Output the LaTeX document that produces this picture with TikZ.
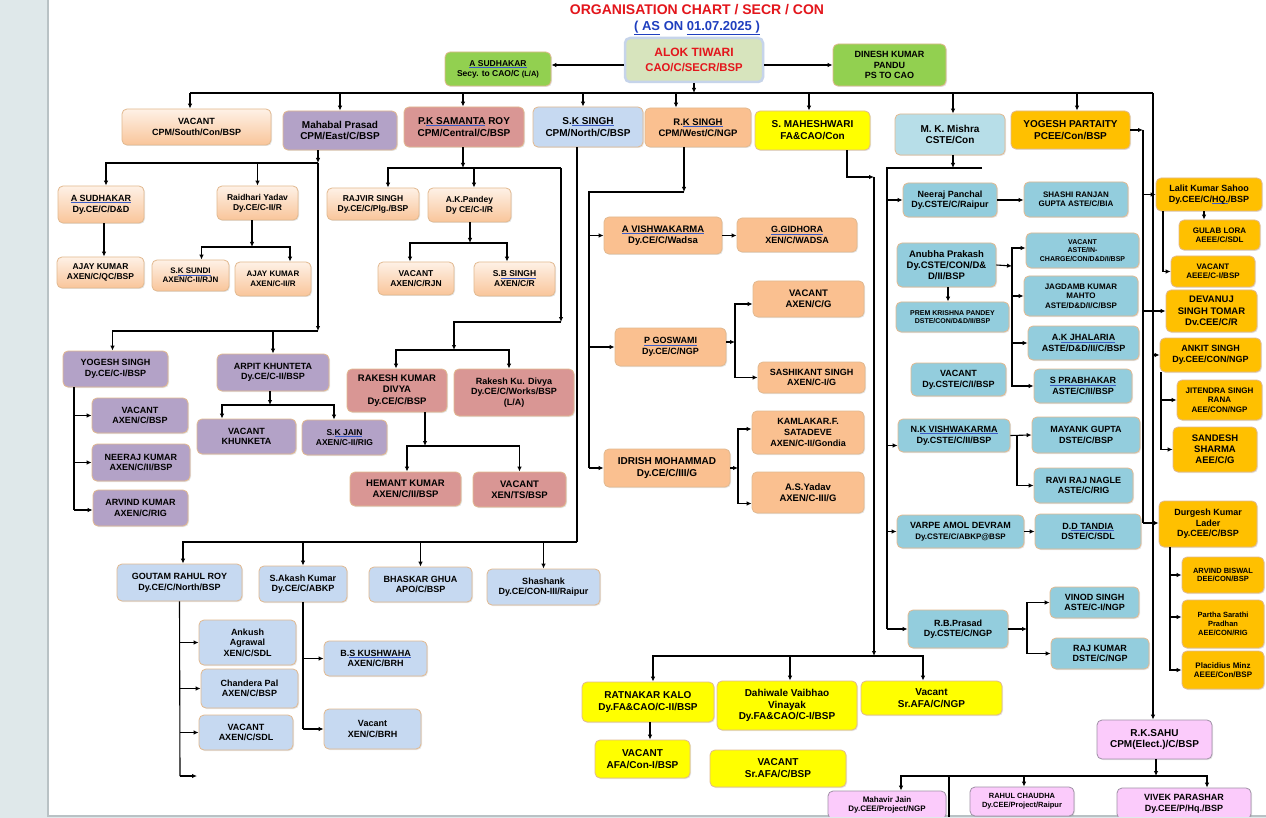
\documentclass[tikz,border=0pt]{standalone}
\usepackage{fontspec}
\setmainfont{Liberation Sans}
\usepackage{xcolor}
\usetikzlibrary{arrows.meta}
\usetikzlibrary{shadows}

\definecolor{margc}{HTML}{DFE8EA}
\definecolor{pagec}{HTML}{B9C2C5}
\definecolor{ttlred}{HTML}{E3161C}
\definecolor{ttlblue}{HTML}{1F3FBF}
\definecolor{ulblue}{HTML}{3A5BC8}
\definecolor{edgec}{HTML}{E2B98F}
\definecolor{alokc}{HTML}{D7E4BD}
\definecolor{alokedge}{HTML}{C6D4EA}
\definecolor{grnc}{HTML}{92D050}
\definecolor{pchtop}{HTML}{FEF1E6}
\definecolor{pchbot}{HTML}{F9C59A}
\definecolor{orgc}{HTML}{FAC090}
\definecolor{purc}{HTML}{B3A2C7}
\definecolor{rosec}{HTML}{D99694}
\definecolor{lbluec}{HTML}{C6D9F1}
\definecolor{tealc}{HTML}{93CDDD}
\definecolor{mishrac}{HTML}{B7DEE8}
\definecolor{goldc}{HTML}{FFC000}
\definecolor{yelc}{HTML}{FFFF00}
\definecolor{pinkc}{HTML}{FBCBFB}
\definecolor{pinkedge}{HTML}{A091A6}

\newcommand{\bluline}[1]{\leavevmode\setbox0\hbox{#1}\rlap{\color{ulblue}\rule[-1.7pt]{\wd0}{0.7pt}}\box0\relax}

\begin{document}
\begin{tikzpicture}[x=1pt,y=-1pt,>={Latex[length=5pt,width=4.5pt]},line width=1.1pt,
  box/.style={draw=edgec,line width=0.8pt,rounded corners=5pt,align=center,inner sep=1pt,
    text=black,fill=#1,drop shadow={opacity=0.2,shadow xshift=1pt,shadow yshift=-1pt}},
  pchbox/.style={box=white,top color=pchtop,bottom color=pchbot},
  wh/.style 2 args={minimum width=#1pt,minimum height=#2pt},
  t7/.style={font=\bfseries\fontsize{7}{8.2}\selectfont},
  t75/.style={font=\bfseries\fontsize{7.5}{8.8}\selectfont},
  t8/.style={font=\bfseries\fontsize{8}{9.4}\selectfont},
  t85/.style={font=\bfseries\fontsize{8.5}{10}\selectfont},
  t9/.style={font=\bfseries\fontsize{9}{10.6}\selectfont},
  t95/.style={font=\bfseries\fontsize{9.5}{11.2}\selectfont},
  t10/.style={font=\bfseries\fontsize{10}{11.8}\selectfont}]
\useasboundingbox (0,0) rectangle (1266,818);
\fill[margc] (0,0) rectangle (1266,818);
\fill[white] (48,0) rectangle (1266,816);
\draw[pagec,line width=1.5pt] (48,0) -- (48,816) -- (1266,816);

\begin{scope}
\clip (48,0) rectangle (1266,816);

% title
\node[font=\bfseries\fontsize{14}{16}\selectfont,text=ttlred] (title) at (697,10) {ORGANISATION CHART / SECR / CON};
\node[font=\bfseries\fontsize{13}{15}\selectfont,text=ttlblue] (date) at (697,28) {\underline{( AS} ON \underline{01.07.2025 )}};

% top row
\node[box=alokc,draw=alokedge,line width=2.5pt,text=ttlred,wh={138}{44},font=\bfseries\fontsize{12}{15}\selectfont] (alok) at (694,60) {ALOK TIWARI\\{\fontsize{11.3}{14}\selectfont CAO/C/SECR/BSP}};
\node[box=grnc,t85,wh={106}{34}] (sudsec) at (498,69) {\bluline{A SUDHAKAR}\\Secy. to CAO/C {\fontsize{7.5}{9}\selectfont(L/A)}};
\node[box=grnc,t9,wh={113}{42}] (dinesh) at (889.5,65) {DINESH KUMAR\\PANDU\\PS TO CAO};

% second row
\node[pchbox,t9,wh={149}{36}] (vacsouth) at (196.5,127) {VACANT\\CPM/South/Con/BSP};
\node[box=purc,t10,wh={114}{39}] (mahabal) at (340,130.5) {Mahabal Prasad\\CPM/East/C/BSP};
\node[box=rosec,t10,wh={120}{40}] (samanta) at (464,127) {P.\bluline{K SAMANTA} ROY\\CPM/Central/C/BSP};
\node[box=lbluec,t10,wh={110}{40}] (sksingh) at (588,127) {S.\bluline{K SINGH}\\CPM/North/C/BSP};
\node[box=orgc,t95,wh={106}{39}] (rksingh) at (698,127.5) {R.\bluline{K SINGH}\\CPM/West/C/NGP};
\node[box=yelc,t10,wh={115}{39}] (mahesh) at (812.5,130.5) {S. MAHESHWARI\\FA\&CAO/Con};
\node[box=mishrac,t10,wh={110}{41}] (mkmishra) at (950,134.5) {M. K. Mishra\\CSTE/Con};
\node[box=goldc,t10,wh={119}{38}] (partaity) at (1070.5,130) {YOGESH PARTAITY\\PCEE/Con/BSP};

% east
\node[pchbox,t9,wh={86}{37}] (sudce) at (101,204.5) {\bluline{A SUDHAKAR}\\Dy.CE/C/D\&D};
\node[pchbox,t85,wh={81}{34}] (raidhari) at (257.5,203) {Raidhari Yadav\\Dy.CE/C-II/R};
\node[pchbox,t85,wh={87}{31}] (ajay1) at (100.5,272.5) {AJAY KUMAR\\AXEN/C/QC/BSP};
\node[pchbox,t8,wh={77}{31}] (sundi) at (190.5,275.5) {S.\bluline{K SUNDI}\\AXEN/C-II/RJN};
\node[pchbox,t8,wh={76}{34}] (ajay2) at (273,279) {AJAY KUMAR\\AXEN/C-II/R};
\node[box=purc,t9,wh={105}{36}] (yogesh) at (115.5,369) {YOGESH SINGH\\Dy.CE/C-I/BSP};
\node[box=purc,t9,wh={96}{35}] (vacbsp) at (140,415.5) {VACANT\\AXEN/C/BSP};
\node[box=purc,t9,wh={98}{37}] (neeraj) at (141,462.5) {NEERAJ KUMAR\\AXEN/C/II/BSP};
\node[box=purc,t9,wh={95}{36}] (arvind) at (140.5,508) {ARVIND KUMAR\\AXEN/C/RIG};
\node[box=purc,t9,wh={112}{37}] (arpit) at (273,372.5) {ARPIT KHUNTETA\\Dy.CE/C-II/BSP};
\node[box=purc,t9,wh={99}{35}] (khunketa) at (246.5,436.5) {VACANT\\KHUNKETA};
\node[box=purc,t85,wh={85}{35}] (skjain) at (344.5,437.5) {S.\bluline{K JAIN}\\AXEN/C-II/RIG};

% central
\node[pchbox,t85,wh={92}{32}] (rajvir) at (373,204) {RAJVIR SINGH\\Dy.CE/C/Plg./BSP};
\node[pchbox,t85,wh={83}{34}] (pandey) at (469.5,205) {A.K.Pandey\\Dy CE/C-I/R};
\node[pchbox,t85,wh={76}{33}] (vacrjn) at (416,278.5) {VACANT\\AXEN/C/RJN};
\node[pchbox,t85,wh={81}{34}] (sbsingh) at (514.5,279) {S.\bluline{B SINGH}\\AXEN/C/R};
\node[box=rosec,t95,wh={100}{43}] (rakeshk) at (397,390.5) {RAKESH KUMAR\\DIVYA\\Dy.CE/C/BSP};
\node[box=rosec,t9,wh={120}{47}] (rakeshd) at (514,392.5) {Rakesh Ku. Divya\\Dy.CE/C/Works/BSP\\(L/A)};
\node[box=rosec,t95,wh={111}{34}] (hemant) at (405.5,489) {HEMANT KUMAR\\AXEN/C/II/BSP};
\node[box=rosec,t95,wh={93}{35}] (vacts) at (519.5,489.5) {VACANT\\XEN/TS/BSP};

% north
\node[box=lbluec,t9,wh={125}{37}] (goutam) at (179.5,582.5) {GOUTAM RAHUL ROY\\Dy.CE/C/North/BSP};
\node[box=lbluec,t9,wh={88}{36}] (akash) at (303,584) {S.Akash Kumar\\Dy.CE/C/ABKP};
\node[box=lbluec,t9,wh={103}{35}] (bhaskar) at (420.5,584.5) {BHASKAR GHUA\\APO/C/BSP};
\node[box=lbluec,t9,wh={113}{36}] (shashank) at (543.5,587) {Shashank\\Dy.CE/CON-III/Raipur};
\node[box=lbluec,t9,wh={97}{45}] (ankush) at (247.5,642.5) {Ankush\\Agrawal\\XEN/C/SDL};
\node[box=lbluec,t9,wh={97}{39}] (chandera) at (249.5,688.5) {Chandera Pal\\AXEN/C/BSP};
\node[box=lbluec,t9,wh={94}{35}] (vacsdl) at (246,732.5) {VACANT\\AXEN/C/SDL};
\node[box=lbluec,t9,wh={103}{35}] (kushwaha) at (375.5,658.5) {B.\bluline{S KUSHWAHA}\\AXEN/C/BRH};
\node[box=lbluec,t9,wh={97}{40}] (vacbrh) at (372.5,729) {Vacant\\XEN/C/BRH};

% west
\node[box=orgc,t95,wh={118}{37}] (vishwa) at (663,235.5) {\bluline{A VISHWAKARMA}\\Dy.CE/C/Wadsa};
\node[box=orgc,t9,wh={120}{34}] (gidhora) at (797,235) {\bluline{G.GIDHORA}\\XEN/C/WADSA};
\node[box=orgc,t9,wh={111}{38}] (goswami) at (670.5,347) {\bluline{P GOSWAMI}\\Dy.CE/C/NGP};
\node[box=orgc,t95,wh={111}{36}] (vacg) at (808.5,299) {VACANT\\AXEN/C/G};
\node[box=orgc,t9,wh={107}{31}] (sashi) at (811.5,377.5) {SASHIKANT SINGH\\AXEN/C-I/G};
\node[box=orgc,t10,wh={126}{38}] (idrish) at (667,468) {IDRISH MOHAMMAD\\Dy.CE/C/III/G};
\node[box=orgc,t9,wh={112}{43}] (kamlakar) at (808,432.5) {KAMLAKAR.F.\\SATADEVE\\AXEN/C-II/Gondia};
\node[box=orgc,t95,wh={112}{41}] (asyadav) at (808,492.5) {A.S.Yadav\\AXEN/C-III/G};

% finance
\node[box=yelc,t10,wh={132}{40}] (ratnakar) at (648,702) {RATNAKAR KALO\\Dy.FA\&CAO/C-II/BSP};
\node[box=yelc,t10,wh={140}{49}] (dahiwale) at (787,705.5) {Dahiwale Vaibhao\\Vinayak\\Dy.FA\&CAO/C-I/BSP};
\node[box=yelc,t10,wh={141}{34}] (vacngp) at (931.5,698) {Vacant\\Sr.AFA/C/NGP};
\node[box=yelc,t10,wh={95}{38}] (vacafa) at (642.5,759) {VACANT\\AFA/Con-I/BSP};
\node[box=yelc,t10,wh={136}{37}] (vacsrafa) at (778,768.5) {VACANT\\Sr.AFA/C/BSP};

% signal
\node[box=tealc,t9,wh={94}{34}] (npanchal) at (950,200) {Neeraj Panchal\\Dy.CSTE/C/Raipur};
\node[box=tealc,t8,wh={104}{35}] (shashi) at (1076,199.5) {SHASHI RANJAN\\GUPTA ASTE/C/BIA};
\node[box=tealc,t95,wh={99}{44}] (anubha) at (946.5,265) {Anubha Prakash\\Dy.CSTE/CON/D\&\\D/II/BSP};
\node[box=tealc,t7,wh={113}{35}] (vacin) at (1082.5,250.5) {VACANT\\ASTE/IN-\\CHARGE/CON/D\&D/I/BSP};
\node[box=tealc,t8,wh={114}{40}] (jagdamb) at (1081,296) {JAGDAMB KUMAR\\MAHTO\\ASTE/D\&D/I/C/BSP};
\node[box=tealc,t9,wh={111}{34}] (jhalaria) at (1083.5,343) {A.\bluline{K JHALARIA}\\ASTE/D\&D/II/C/BSP};
\node[box=tealc,t9,wh={98}{34}] (prabhakar) at (1083,386) {\bluline{S PRABHAKAR}\\ASTE/C/II/BSP};
\node[box=tealc,t7,wh={113}{30}] (prem) at (952.5,317) {PREM KRISHNA PANDEY\\DSTE/CON/D\&D/II/BSP};
\node[box=tealc,t9,wh={95}{33}] (vaccste) at (958.5,379.5) {VACANT\\Dy.CSTE/C/I/BSP};
\node[box=tealc,t9,wh={112}{33}] (nkv) at (954,435.5) {N.\bluline{K VISHWAKARMA}\\Dy.CSTE/C/II/BSP};
\node[box=tealc,t9,wh={108}{36}] (mayank) at (1086,435) {MAYANK GUPTA\\DSTE/C/BSP};
\node[box=tealc,t9,wh={99}{35}] (ravi) at (1083.5,485.5) {RAVI RAJ NAGLE\\ASTE/C/RIG};
\node[box=tealc,t9,wh={127}{33}] (varpe) at (960.5,531.5) {VARPE AMOL DEVRAM\\{\fontsize{8}{9}\selectfont Dy.CSTE/C/ABKP@BSP}};
\node[box=tealc,t9,wh={106}{35}] (tandia) at (1088,531.5) {D.\bluline{D TANDIA}\\DSTE/C/SDL};
\node[box=tealc,t9,wh={100}{38}] (rbprasad) at (958,629) {R.B.Prasad\\Dy.CSTE/C/NGP};
\node[box=tealc,t9,wh={89}{31}] (vinod) at (1094.5,602.5) {VINOD SINGH\\ASTE/C-I/NGP};
\node[box=tealc,t9,wh={98}{31}] (rajkumar) at (1100,653.5) {RAJ KUMAR\\DSTE/C/NGP};

% electrical
\node[box=goldc,t9,wh={106}{33}] (lalit) at (1209,194.5) {Lalit Kumar Sahoo\\Dy.CEE/C/\bluline{HQ.}/BSP};
\node[box=goldc,t8,wh={81}{30}] (gulab) at (1219.5,235) {GULAB LORA\\AEEE/C/SDL};
\node[box=goldc,t8,wh={84}{31}] (vacaeee) at (1213,271.5) {VACANT\\AEEE/C-I/BSP};
\node[box=goldc,t95,wh={91}{42}] (devanuj) at (1211.5,311) {DEVANUJ\\SINGH TOMAR\\Dv.CEE/C/R};
\node[box=goldc,t9,wh={101}{34}] (ankit) at (1210.5,355) {ANKIT SINGH\\Dy.CEE/CON/NGP};
\node[box=goldc,t8,wh={85}{40}] (jitendra) at (1219.5,400) {JITENDRA SINGH\\RANA\\AEE/CON/NGP};
\node[box=goldc,t95,wh={84}{45}] (sandesh) at (1215,449.5) {SANDESH\\SHARMA\\AEE/C/G};
\node[box=goldc,t9,wh={98}{46}] (durgesh) at (1208,524) {Durgesh Kumar\\Lader\\Dy.CEE/C/BSP};
\node[box=goldc,t75,wh={82}{36}] (biswal) at (1223,575) {ARVIND BISWAL\\DEE/CON/BSP};
\node[box=goldc,t75,wh={82}{48}] (partha) at (1223,624) {Partha Sarathi\\Pradhan\\AEE/CON/RIG};
\node[box=goldc,t8,wh={82}{38}] (placidius) at (1223,670) {Placidius Minz\\AEEE/Con/BSP};
\node[box=pinkc,draw=pinkedge,t10,wh={115}{39}] (sahu) at (1154.5,739.5) {R.K.SAHU\\CPM(Elect.)/C/BSP};
\node[box=pinkc,draw=pinkedge,t8,wh={118}{28}] (mahavir) at (887,805) {Mahavir Jain\\Dy.CEE/Project/NGP};
\node[box=pinkc,draw=pinkedge,t75,wh={104}{29}] (rahul) at (1022,801.5) {RAHUL CHAUDHA\\Dy.CEE/Project/Raipur};
\node[box=pinkc,draw=pinkedge,t9,wh={134}{31}] (vivek) at (1184,803.5) {VIVEK PARASHAR\\Dy.CEE/P/Hq./BSP};

% bus points
\coordinate (topbus) at (694,93);
\coordinate (busend) at (1153,93);
\coordinate (eb1) at (318,163);
\coordinate (eb2) at (318,331);
\coordinate (rb) at (252,247);
\coordinate (yb) at (74,510);
\coordinate (ab) at (270,405);
\coordinate (cb1) at (463,168);
\coordinate (cb2) at (561,168);
\coordinate (cb3) at (561,322);
\coordinate (cb4) at (454,350);
\coordinate (pdb) at (470,243);
\coordinate (rkb) at (425,446);
\coordinate (nb) at (577,542);
\coordinate (gb) at (180,776);
\coordinate (gfree) at (197,776);
\coordinate (kb) at (303,729);
\coordinate (wb1) at (684,192);
\coordinate (wb2) at (589,192);
\coordinate (wb3) at (589,468);
\coordinate (gsb) at (735,342);
\coordinate (ib) at (738,468);
\coordinate (mh2) at (874,177);
\coordinate (mh3) at (874,656);
\coordinate (sb1) at (953,168);
\coordinate (sb2) at (887,168);
\coordinate (sb3) at (887,629);
\coordinate (sb4) at (982,168);
\coordinate (ab2) at (1012,266);
\coordinate (kvb) at (1017,435);
\coordinate (rpb) at (1027,629);
\coordinate (pb1) at (1143,130);
\coordinate (pb2) at (1143,523);
\coordinate (hb) at (1156,776);
\coordinate (hfree) at (949,818);
\coordinate (akb) at ([xshift=-49.5pt]ankit.south);
\coordinate (db) at ([xshift=-38pt]durgesh.south);

% top connectors
\draw[->] ([yshift=-5pt]alok.west) -- ([yshift=-5pt]alok.west -| sudsec.east);
\draw[->] ([yshift=-5pt]alok.east) -- ([yshift=-5pt]alok.east -| dinesh.west);
\draw[->] (alok.south) -- (alok.south |- topbus);
\draw ([xshift=-6.5pt]vacsouth.north |- topbus) -- (busend);
\draw[->] ([xshift=-6.5pt]vacsouth.north |- topbus) -- ([xshift=-6.5pt]vacsouth.north);
\draw[->] (mahabal.north |- topbus) -- (mahabal.north);
\draw[->] ([xshift=-1pt]samanta.north |- topbus) -- ([xshift=-1pt]samanta.north);
\draw[->] ([xshift=-5pt]sksingh.north |- topbus) -- ([xshift=-5pt]sksingh.north);
\draw[->] ([xshift=-22pt]rksingh.north |- topbus) -- ([xshift=-22pt]rksingh.north);
\draw[->] ([xshift=-3.5pt]mahesh.north |- topbus) -- ([xshift=-3.5pt]mahesh.north);
\draw[->] ([xshift=3pt]mkmishra.north |- topbus) -- ([xshift=3pt]mkmishra.north);
\draw[->] ([xshift=6.5pt]partaity.north |- topbus) -- ([xshift=6.5pt]partaity.north);
\draw[->] (busend) -- (busend |- sahu.north);

% east
\draw[->] (mahabal.south -| eb1) -- (eb1);
\draw[->] (eb1) -- (eb2);
\draw[->] (eb1) -| ([xshift=5pt]sudce.north);
\draw[->] (raidhari.north |- eb1) -- (raidhari.north);
\draw[->] (eb2) -| ([xshift=-3pt]yogesh.north);
\draw[->] (arpit.north |- eb2) -- (arpit.north);
\draw[->] ([xshift=3pt]sudce.south) -- ([xshift=3pt]sudce.south |- ajay1.north);
\draw[->] (raidhari.south -| rb) -- (rb);
\draw[<->] ([xshift=11pt]sundi.north) |- (rb) -| ([xshift=17pt]ajay2.north);
\draw ([xshift=-41.5pt]yogesh.south) -- (yb);
\draw[->] (vacbsp.west -| yb) -- (vacbsp.west);
\draw[->] (neeraj.west -| yb) -- (neeraj.west);
\draw[->] (yb) -- (arvind.west |- yb);
\draw[->] ([xshift=-3pt]arpit.south) -- (ab);
\draw[<->] ([xshift=-24.5pt]khunketa.north) |- (ab) -| ([xshift=-10.5pt]skjain.north);

% central
\draw[->] (samanta.south -| cb1) -- (cb1);
\draw[<-] ([xshift=15pt]rajvir.north) |- (cb2);
\draw[->] ([xshift=4.5pt]pandey.north |- cb1) -- ([xshift=4.5pt]pandey.north);
\draw[->] (cb2) -- (cb3);
\draw[->] (cb3) -| (cb4);
\draw[<->] ([xshift=-1pt]rakeshk.north) |- (cb4) -| ([xshift=-5pt]rakeshd.north);
\draw[->] (pandey.south -| pdb) -- (pdb);
\draw[<->] ([xshift=-6pt]vacrjn.north) |- (pdb) -| ([xshift=-7.5pt]sbsingh.north);
\draw[->] ([xshift=28pt]rakeshk.south) -- (rkb);
\draw[<->] ([xshift=1.5pt]hemant.north) |- (rkb) -| (vacts.north);

% north
\draw (sksingh.south -| nb) -- (nb);
\draw[->] (nb) -| ([xshift=3.5pt]goutam.north);
\draw[->] (akash.north |- nb) -- (akash.north);
\draw[->] (bhaskar.north |- nb) -- (bhaskar.north);
\draw[->] (shashank.north |- nb) -- (shashank.north);
\draw (goutam.south) -- (gb);
\draw[->] (ankush.west -| gb) -- (ankush.west);
\draw[->] (chandera.west -| gb) -- (chandera.west);
\draw[->] (vacsdl.west -| gb) -- (vacsdl.west);
\draw[->] (gb) -- (gfree);
\draw (akash.south) -- (kb);
\draw[->] (kushwaha.west -| kb) -- (kushwaha.west);
\draw[->] (kb) -- (vacbrh.west);

% west
\draw[->] ([xshift=-14pt]rksingh.south) -- (wb1);
\draw (wb1) -- (wb2) -- (wb3);
\draw[->] (vishwa.west -| wb2) -- (vishwa.west);
\draw[->] (goswami.west -| wb2) -- (goswami.west);
\draw[->] (wb3) -- (idrish.west);
\draw[->] (vishwa.east) -- (vishwa.east -| gidhora.west);
\draw[->] (goswami.east |- gsb) -- (gsb);
\draw[<->] ([yshift=-5pt]vacg.west) -| (gsb) |- (sashi.west);
\draw[->] (idrish.east) -- (ib);
\draw[<->] ([yshift=3.5pt]kamlakar.west) -| (ib) |- ([yshift=-11pt]asyadav.west);

% finance
\draw[->] ([xshift=34.5pt]mahesh.south) |- (mh2);
\draw[->] (mh2) -- (mh3);
\draw[<->] ([xshift=5pt]ratnakar.north) |- (mh3) -| ([xshift=-8.5pt]vacngp.north);
\draw[->] ([xshift=3pt]dahiwale.north |- mh3) -- ([xshift=3pt]dahiwale.north);
\draw[->] ([xshift=2pt]ratnakar.south) -- ([xshift=2pt]ratnakar.south |- vacafa.north);

% signal
\draw[->] ([xshift=3pt]mkmishra.south) -- (sb1);
\draw (sb4) -- (sb2) -- (sb3);
\draw[->] (npanchal.west -| sb2) -- (npanchal.west);
\draw[->] (npanchal.east) -- (npanchal.east -| shashi.west);
\draw[->] (anubha.east) -- (ab2);
\draw[<->] ([yshift=2.5pt]vacin.west) -| (ab2) |- (prabhakar.west);
\draw[->] (jagdamb.west -| ab2) -- (jagdamb.west);
\draw[->] (jhalaria.west -| ab2) -- (jhalaria.west);
\draw[->] ([xshift=1.5pt]anubha.south) -- ([xshift=1.5pt]anubha.south |- prem.north);
\draw[->] ([yshift=-10pt]nkv.west -| sb2) -- ([yshift=-10pt]nkv.west);
\draw[->] (nkv.east) -- (mayank.west);
\draw[->] (nkv.east -| kvb) |- (ravi.west);
\draw[->] (varpe.west -| sb2) -- (varpe.west);
\draw[->] (varpe.east) -- (tandia.west);
\draw[->] (sb3) -- (rbprasad.west);
\draw[->] (rbprasad.east) -- (rpb);
\draw[<->] (vinod.west) -| (rpb) |- (rajkumar.west);

% electrical
\draw[->] (partaity.east) -- (pb1);
\draw (pb1) -- (pb2);
\draw[->] (lalit.west -| pb1) -- (lalit.west);
\draw[->] (devanuj.west -| pb1) -- (devanuj.west);
\draw[->] (ankit.west -| busend) -- (ankit.west);
\draw[->] (pb2) -- (durgesh.west |- pb2);
\draw[->] ([xshift=-5pt]lalit.south) -- ([xshift=-5pt]lalit.south |- gulab.north);
\draw[->] ([xshift=-46pt]lalit.south) |- (vacaeee.west);
\draw[->] (akb) |- (sandesh.west);
\draw[->] (jitendra.west -| akb) -- (jitendra.west);
\draw[->] (db) |- (placidius.west);
\draw[->] (biswal.west -| db) -- (biswal.west);
\draw[->] ([yshift=7pt]partha.west -| db) -- ([yshift=7pt]partha.west);
\draw[->] ([xshift=1.5pt]sahu.south) -- (hb);
\draw[<->] ([xshift=14pt]mahavir.north) |- (hb) -| ([xshift=23pt]vivek.north);
\draw[->] ([xshift=2pt]rahul.north |- hb) -- ([xshift=2pt]rahul.north);
\draw (hfree |- hb) -- (hfree);
\end{scope}
\end{tikzpicture}
\end{document}
